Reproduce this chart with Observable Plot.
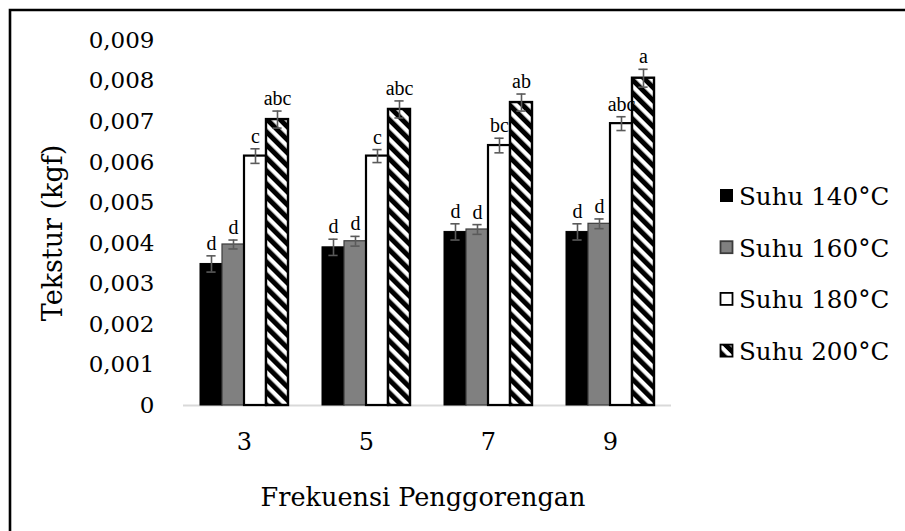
<!DOCTYPE html>
<html><head><meta charset="utf-8">
<script src="https://cdn.jsdelivr.net/npm/d3@7"></script>
<script src="https://cdn.jsdelivr.net/npm/@observablehq/plot@0.6"></script>
<style>
body{margin:0;background:#fff}
#chart{position:relative;width:905px;height:531px;overflow:hidden}
</style>
</head><body><div id="chart"></div>
<script>
// ---- data ----
const categories = ["3", "5", "7", "9"];
const series = ["Suhu 140°C", "Suhu 160°C", "Suhu 180°C", "Suhu 200°C"];
const suhu140 = [0.00349, 0.00390, 0.00428, 0.00428];
const suhu160 = [0.00397, 0.00405, 0.00434, 0.00448];
const suhu180 = [0.00615, 0.00615, 0.00641, 0.00695];
const suhu200 = [0.00705, 0.00730, 0.00747, 0.00807];
const err140 = [0.00020, 0.00020, 0.00020, 0.00020];
const err160 = [0.00011, 0.00012, 0.00012, 0.00012];
const err180 = [0.00018, 0.00016, 0.00018, 0.00017];
const err200 = [0.00021, 0.00021, 0.00021, 0.00022];
const notasi140 = ["d", "d", "d", "d"];
const notasi160 = ["d", "d", "d", "d"];
const notasi180 = ["c", "c", "bc", "abc"];
const notasi200 = ["abc", "abc", "ab", "a"];
const yTicks = [0, 0.001, 0.002, 0.003, 0.004, 0.005, 0.006, 0.007, 0.008, 0.009];
const xTitle = "Frekuensi Penggorengan";
const yTitle = "Tekstur (kgf)";

// ---- table ----
const vals = [suhu140, suhu160, suhu180, suhu200];
const errs = [err140, err160, err180, err200];
const nots = [notasi140, notasi160, notasi180, notasi200];
const rows = [];
series.forEach((s, si) => categories.forEach((c, ci) => rows.push({
  cat: c, series: s, value: vals[si][ci], err: errs[si][ci], notasi: nots[si][ci]
})));

const fills = ["#000000", "#808080", "#ffffff", "url(#hatch)"];
const strokes = ["#000000", "#3c3c3c", "#000000", "#000000"];
const strokeWidths = [1, 1.2, 2.2, 2.4];
const fmt = d => d === 0 ? "0" : d.toFixed(3).replace(".", ",");
const serif = "'DejaVu Serif', serif";

const barMarks = series.map((s, i) => Plot.barY(rows.filter(d => d.series === s), {
  fx: "cat", x: "series", y: "value",
  fill: fills[i], stroke: strokes[i], strokeWidth: strokeWidths[i]
}));

const errColor = "#5a5a5a";
const chart = Plot.plot({
  width: 905, height: 531,
  marginLeft: 182, marginRight: 233, marginTop: 40, marginBottom: 126,
  style: {fontFamily: serif, background: "#fff", color: "#000"},
  fx: {domain: categories, padding: 0, label: null, axis: null},
  x: {domain: series, paddingInner: 0, paddingOuter: 0.69, axis: null},
  y: {domain: [0, 0.009], axis: null},
  marks: [
    Plot.axisY({ticks: yTicks, tickFormat: fmt, tickSize: 0, tickPadding: 29, fontSize: 23, label: null}),
    Plot.axisFx({anchor: "bottom", tickSize: 0, tickPadding: 27, fontSize: 24, label: null}),
    Plot.ruleY([0], {stroke: "#d9d9d9", strokeWidth: 2}),
    ...barMarks,
    Plot.ruleX(rows, {fx: "cat", x: "series", y1: d => d.value - d.err, y2: d => d.value + d.err, stroke: errColor, strokeWidth: 1.6}),
    Plot.tickY(rows, {fx: "cat", x: "series", y: d => d.value + d.err, insetLeft: 6.4, insetRight: 6.4, stroke: errColor, strokeWidth: 1.6}),
    Plot.tickY(rows, {fx: "cat", x: "series", y: d => d.value - d.err, insetLeft: 6.4, insetRight: 6.4, stroke: errColor, strokeWidth: 1.6}),
    Plot.text(rows, {fx: "cat", x: "series", y: d => d.value + d.err, text: "notasi", dy: -6, lineAnchor: "bottom",
      fontFamily: "'Liberation Serif', serif", fontSize: 20, fill: "#000"})
  ]
});
document.getElementById("chart").appendChild(chart);

// ---- pattern, titles, legend, frame ----
const svg = d3.select(chart);
const defs = svg.insert("defs", ":first-child");
const pat = defs.append("pattern").attr("id", "hatch").attr("patternUnits", "userSpaceOnUse")
  .attr("width", 9.2).attr("height", 9.2).attr("patternTransform", "rotate(-45)");
pat.append("rect").attr("width", 9.2).attr("height", 9.2).attr("fill", "#fff");
pat.append("rect").attr("width", 5).attr("height", 9.2).attr("fill", "#000");

svg.append("text").attr("x", 423).attr("y", 506).attr("text-anchor", "middle")
  .attr("font-family", serif).attr("font-size", 25.5).attr("fill", "#000").text(xTitle);
svg.append("text").attr("transform", "translate(62,233) rotate(-90)").attr("text-anchor", "middle")
  .attr("font-family", serif).attr("font-size", 27).attr("fill", "#000").text(yTitle);

const lg = svg.append("g");
series.forEach((s, i) => {
  const base = 205 + i * 51.7;
  lg.append("rect").attr("x", 720.5).attr("y", base - 15.5).attr("width", 12).attr("height", 12)
    .attr("fill", fills[i]).attr("stroke", strokes[i]).attr("stroke-width", i === 0 ? 1 : 1.8);
  lg.append("text").attr("x", 739).attr("y", base).attr("text-anchor", "start")
    .attr("font-family", serif).attr("font-size", 24.6).attr("fill", "#000").text(s);
});

svg.append("path").attr("d", "M10,531 V10 H905").attr("fill", "none").attr("stroke", "#000").attr("stroke-width", 2.6);
</script>
</body></html>
